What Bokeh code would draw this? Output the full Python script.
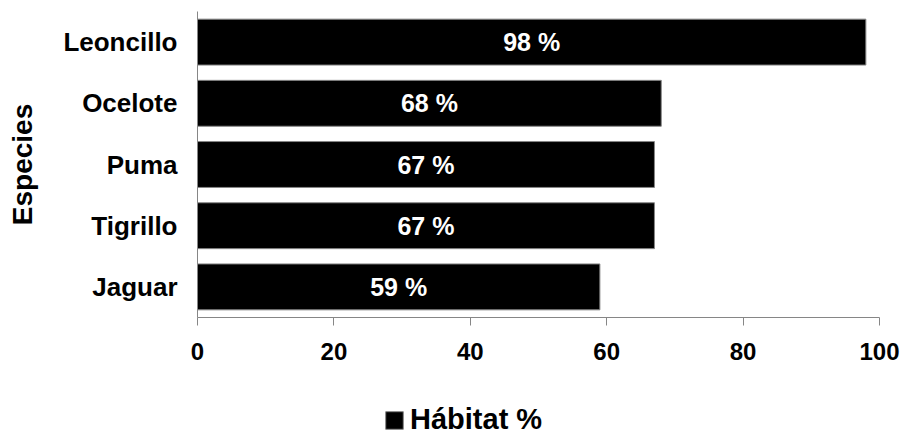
from bokeh.plotting import figure
from bokeh.layouts import column
from bokeh.models import ColumnDataSource, Range1d, FactorRange, FixedTicker, Legend, LegendItem, LabelSet
from bokeh.core.properties import value
from bokeh.embed import file_html
from bokeh.resources import INLINE

# Species listed bottom to top, with habitat percentage
species = ["Jaguar", "Tigrillo", "Puma", "Ocelote", "Leoncillo"]
habitat = [59, 67, 67, 68, 98]
x_ticks = [0, 20, 40, 60, 80, 100]
series_name = "Hábitat %"

FONT = "Liberation Sans"
AXIS_GREY = "#868686"
BAR_STYLE = dict(fill_color="black", line_color=AXIS_GREY, line_width=1)

source = ColumnDataSource(dict(
    species=species,
    habitat=habitat,
    mid=[v / 2 for v in habitat],
    label=[f"{v} %" for v in habitat],
))

p = figure(
    width=904, height=385,
    y_range=FactorRange(*species, range_padding=0),
    x_range=Range1d(0, 100),
    output_backend="svg", toolbar_location=None,
    min_border_left=197, min_border_right=25,
    min_border_top=11, min_border_bottom=68,
)

p.hbar(y="species", right="habitat", left=0, height=0.75, source=source, **BAR_STYLE)

labels = LabelSet(x="mid", y="species", text="label", source=source,
                  text_align="center", text_baseline="middle",
                  text_color="white", text_font=value(FONT),
                  text_font_style="bold", text_font_size="25px")
p.add_layout(labels)

p.xgrid.visible = False
p.ygrid.visible = False
p.outline_line_color = None

xa = p.xaxis[0]
xa.ticker = FixedTicker(ticks=x_ticks)
xa.axis_line_color = AXIS_GREY
xa.major_tick_line_color = AXIS_GREY
xa.major_tick_out = 8
xa.major_tick_in = 0
xa.minor_tick_line_color = None
xa.major_label_text_font = FONT
xa.major_label_text_font_style = "bold"
xa.major_label_text_font_size = "24px"
xa.major_label_text_color = "black"
xa.major_label_standoff = 17

ya = p.yaxis[0]
ya.axis_line_color = AXIS_GREY
ya.major_tick_line_color = None
ya.major_tick_out = 0
ya.major_tick_in = 0
ya.minor_tick_line_color = None
ya.major_label_text_font = FONT
ya.major_label_text_font_style = "bold"
ya.major_label_text_font_size = "26px"
ya.major_label_text_color = "black"
ya.major_label_standoff = 20
ya.axis_label = "Especies"
ya.axis_label_text_font = FONT
ya.axis_label_text_font_style = "bold"
ya.axis_label_text_font_size = "28px"
ya.axis_label_text_color = "black"
ya.axis_label_standoff = 22

# Legend strip below the chart: a key-only figure whose (hidden) bar renderer
# shares the chart's style, so the legend swatch matches the bars
key = figure(
    width=904, height=49,
    y_range=FactorRange(*species), x_range=Range1d(0, 100),
    x_axis_location=None, y_axis_location=None,
    output_backend="svg", toolbar_location=None,
    min_border=0,
)
key.xgrid.visible = False
key.ygrid.visible = False
key.outline_line_color = None
key_bar = key.hbar(y="species", right="habitat", left=0, height=0.75,
                   source=source, visible=False, **BAR_STYLE)

# the column aligns frames, so x is measured from the chart's left axis
legend = Legend(items=[LegendItem(label=series_name, renderers=[key_bar])],
                orientation="horizontal", location=(186, -2),
                glyph_width=22, glyph_height=22,
                label_text_font=FONT, label_text_font_style="bold",
                label_text_font_size="29px", label_text_color="black",
                border_line_color=None, background_fill_alpha=0,
                inactive_fill_alpha=0,
                margin=0, padding=0, label_standoff=5)
key.add_layout(legend, "center")

layout = column(p, key, spacing=0)
open("out.html", "w").write(file_html(layout, INLINE))
